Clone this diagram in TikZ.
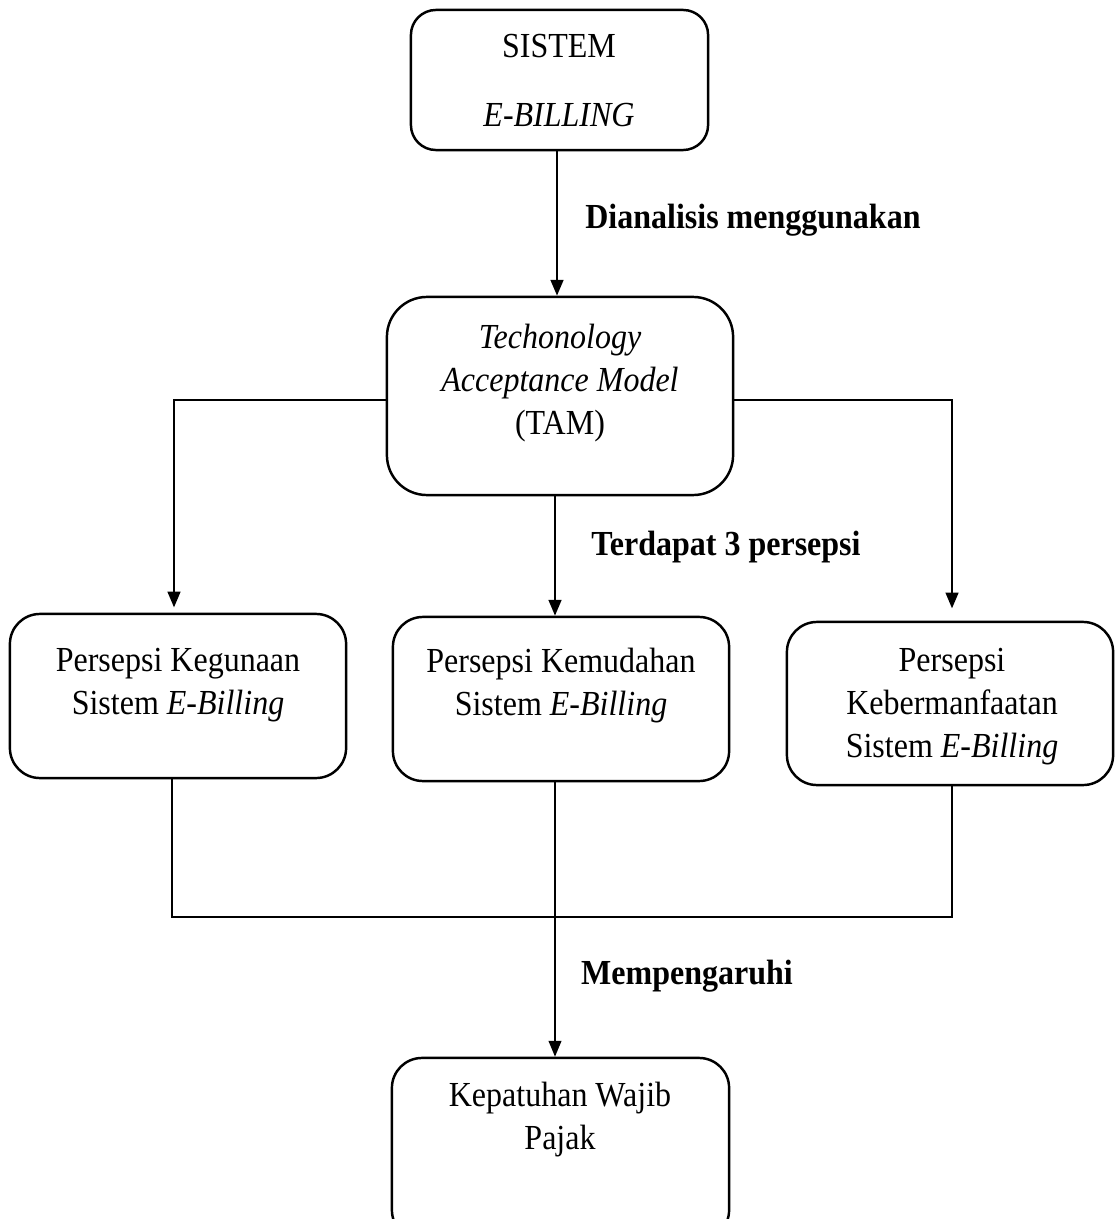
\documentclass[tikz,border=0pt]{standalone}
\usepackage{fontspec}
\setmainfont[FakeStretch=0.91]{Liberation Serif}
\usetikzlibrary{arrows.meta}
\begin{document}
\begin{tikzpicture}[x=0.01cm,y=-0.01cm,
  box/.style={draw,line width=0.7pt,rounded corners=#1,inner sep=0pt},
  box/.default=0.28cm,
  txt/.style={align=center,font=\fontsize{10}{12.2}\selectfont,inner sep=0pt},
  lbl/.style={font=\fontsize{10}{12.2}\selectfont\bfseries,inner sep=0pt},
  line/.style={line width=0.7pt},
  arr/.style={line width=0.7pt,-{Triangle[length=4.5pt,width=3.6pt]}}]
\clip (0,0) rectangle (1115,1219);
\useasboundingbox (0,0) rectangle (1115,1219);
% boxes
\node[box=0.25cm,minimum width=2.97cm,minimum height=1.40cm] (sys) at (559.5,80) {};
\node[box=0.40cm,minimum width=3.46cm,minimum height=1.98cm] (tam) at (560,396) {};
\node[box=0.30cm,minimum width=3.36cm,minimum height=1.64cm] (p1) at (178,696) {};
\node[box=0.30cm,minimum width=3.36cm,minimum height=1.64cm] (p2) at (561,699) {};
\node[box=0.30cm,minimum width=3.26cm,minimum height=1.63cm] (p3) at (950,703.5) {};
\node[box=0.30cm,minimum width=3.37cm,minimum height=1.82cm] (kp) at (560.5,1149) {};
% texts
\node[txt,font=\fontsize{10}{19.6}\selectfont] (tsys) at (559,80.5) {SISTEM\\\textit{E-BILLING}};
\node[txt] (ttam) at (560,383) {\textit{Techonology}\\\textit{Acceptance Model}\\(TAM)};
\node[txt] (tp1) at (178,685.5) {Persepsi Kegunaan\\Sistem \textit{E-Billing}};
\node[txt] (tp2) at (561,685.5) {Persepsi Kemudahan\\Sistem \textit{E-Billing}};
\node[txt] (tp3) at (952,707) {Persepsi\\Kebermanfaatan\\Sistem \textit{E-Billing}};
\node[txt] (tkp) at (560,1119.5) {Kepatuhan Wajib\\Pajak};
% labels
\node[lbl] (l1) at (753,220) {Dianalisis menggunakan};
\node[lbl] (l2) at (726,547) {Terdapat 3 persepsi};
\node[lbl] (l3) at (687,976) {Mempengaruhi};
% connectors
\coordinate (lt) at (174,400);
\coordinate (rt) at (952,400);
\coordinate (lb) at (172,917);
\coordinate (rb) at (952,917);
\draw[arr] (sys.south -| 557,0) -- (tam.north -| 557,0);
\draw[arr,shorten >=1.5pt] (tam.west |- lt) -- (lt) -- (lt |- p1.north);
\draw[arr,shorten >=3.5pt] (tam.east |- rt) -- (rt) -- (rt |- p3.north);
\draw[arr] (tam.south -| 555,0) -- (p2.north -| 555,0);
\draw[line] (lb |- p1.south) -- (lb) -- (rb) -- (rb |- p3.south);
\draw[arr,line width=0.5pt] (p2.south -| 555,0) -- (kp.north -| 555,0);
\end{tikzpicture}
\end{document}
